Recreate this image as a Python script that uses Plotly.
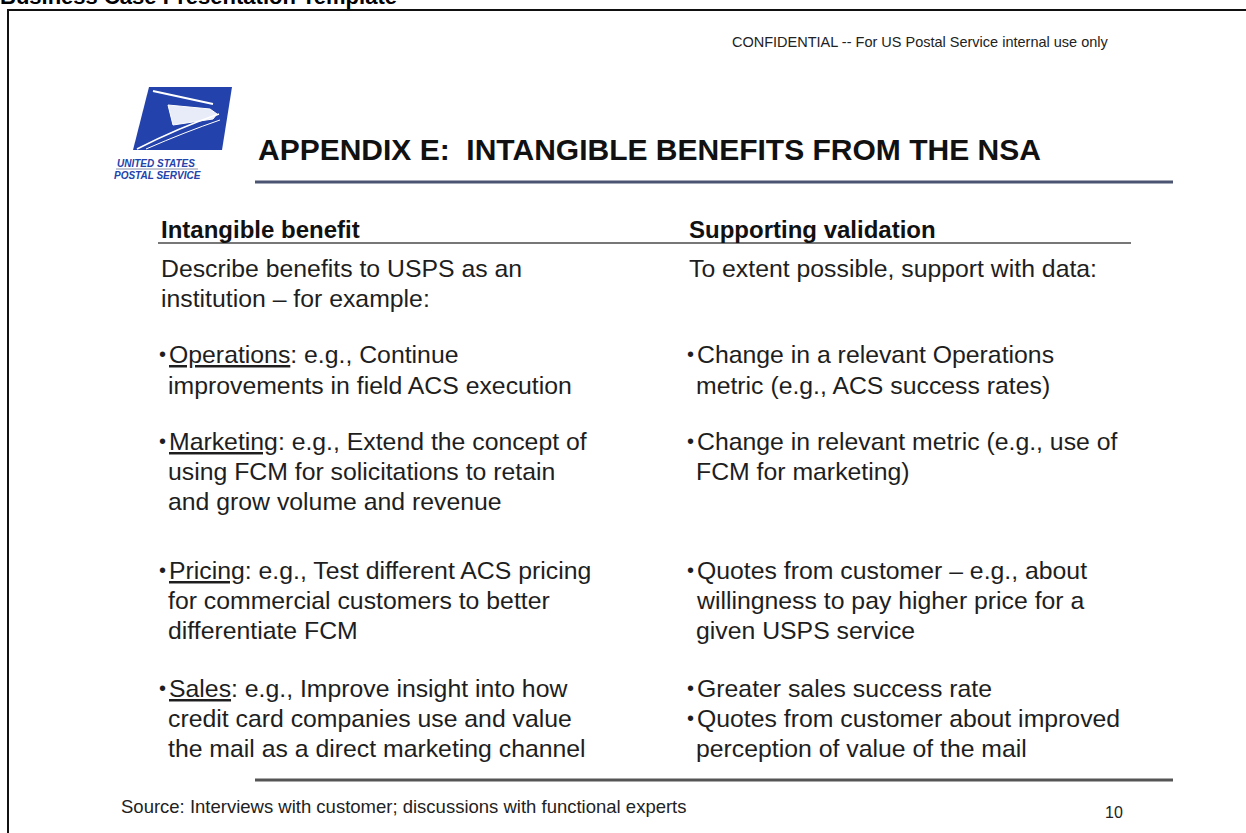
import plotly.graph_objects as go

W, H = 1246, 833
FONT = "Liberation Sans, Arial, sans-serif"
TXT = "#1e1e1e"

doc_title = "Business Case Presentation Template"
confidential = "CONFIDENTIAL -- For US Postal Service internal use only"
slide_title = "APPENDIX E:\u00a0\u00a0INTANGIBLE BENEFITS FROM THE NSA"
col_headers = ["Intangible benefit", "Supporting validation"]
logo_lines = ["UNITED STATES", "POSTAL SERVICE"]

# (is_bullet, text) for each row of the two columns
left_rows = [
    (False, "Describe benefits to USPS as an"),
    (False, "institution \u2013 for example:"),
    (True, "<u>Operations</u>: e.g., Continue"),
    (False, "improvements in field ACS execution"),
    (True, "<u>Marketing</u>: e.g., Extend the concept of"),
    (False, "using FCM for solicitations to retain"),
    (False, "and grow volume and revenue"),
    (True, "<u>Pricing</u>: e.g., Test different ACS pricing"),
    (False, "for commercial customers to better"),
    (False, "differentiate FCM"),
    (True, "<u>Sales</u>: e.g., Improve insight into how"),
    (False, "credit card companies use and value"),
    (False, "the mail as a direct marketing channel"),
]
right_rows = [
    (False, "To extent possible, support with data:"),
    (None, ""),
    (True, "Change in a relevant Operations"),
    (False, "metric (e.g., ACS success rates)"),
    (True, "Change in relevant metric (e.g., use of"),
    (False, "FCM for marketing)"),
    (None, ""),
    (True, "Quotes from customer \u2013 e.g., about"),
    (False, "willingness to pay higher price for a"),
    (False, "given USPS service"),
    (True, "Greater sales success rate"),
    (True, "Quotes from customer about improved"),
    (False, "perception of value of the mail"),
]
row_y = [268, 298, 354, 385, 441, 471, 501, 570, 600, 630, 688, 718, 748]
source_note = "Source: Interviews with customer; discussions with functional experts"
page_number = "10"

fig = go.Figure()
ann = []
shapes = []

def text(x, y, s, size, bold=False, color=TXT, xanchor="left", italic=False):
    if bold:
        s = "<b>" + s + "</b>"
    if italic:
        s = "<i>" + s + "</i>"
    ann.append(dict(x=x, y=y, xref="x", yref="y", text=s, showarrow=False,
                    xanchor=xanchor, yanchor="middle",
                    font=dict(family=FONT, size=size, color=color)))

# page frame
shapes.append(dict(type="path", path="M8,840 L8,10 L1250,10", xref="x", yref="y",
                   line=dict(color="#111111", width=2)))
# document title (cut off at the top edge of the page)
ann.append(dict(x=-2 / W, y=1 + 3 / H, xref="paper", yref="paper",
                text="<b>" + doc_title + "</b>", showarrow=False,
                xanchor="left", yanchor="middle",
                font=dict(family=FONT, size=22, color="#000000")))
text(730, 42, confidential, 14.5, color="#222222")

# logo
shapes.append(dict(type="path", path="M149,87 L232,87 L222,150 L133,150 Z",
                   xref="x", yref="y", fillcolor="#2342ab", line=dict(width=0)))
shapes.append(dict(type="path", path="M153,91 L213,104", xref="x", yref="y",
                   line=dict(color="white", width=2)))
shapes.append(dict(type="path", path="M168,105 L210,109 L217,114 L213,119 L173,125 Z",
                   xref="x", yref="y", fillcolor="#e8ecf8", line=dict(color="white", width=1)))
shapes.append(dict(type="path", path="M137,149 Q178,128 219,114", xref="x", yref="y",
                   line=dict(color="white", width=1.6)))
shapes.append(dict(type="path", path="M146,149 Q185,132 220,120", xref="x", yref="y",
                   line=dict(color="white", width=1)))
text(156, 163, logo_lines[0], 10, bold=True, italic=True, color="#2342ab", xanchor="center")
shapes.append(dict(type="line", x0=116, x1=198, y0=169, y1=169, xref="x", yref="y",
                   line=dict(color="#8890a8", width=1)))
text(157, 175, logo_lines[1], 10, bold=True, italic=True, color="#2342ab", xanchor="center")

# slide title and rule
text(256, 149, slide_title, 30, bold=True, color="#111111")
shapes.append(dict(type="line", x0=255, x1=1173, y0=182, y1=182, xref="x", yref="y",
                   line=dict(color="#4b5470", width=3)))

# column headers and rule
text(159, 229, col_headers[0], 24, bold=True, color="#111111")
text(687, 229, col_headers[1], 24, bold=True, color="#111111")
shapes.append(dict(type="line", x0=158, x1=1131, y0=243, y1=243, xref="x", yref="y",
                   line=dict(color="#777777", width=2)))

# body text
BODY = 24.8
for x0, rows in ((159, left_rows), (687, right_rows)):
    for (bullet, s), y in zip(rows, row_y):
        if bullet is None:
            continue
        if bullet:
            text(x0 - 2, y, "\u2022", 20)
            text(x0 + 8, y, s, BODY)
        elif s.startswith(("Describe", "institution", "To extent")):
            text(x0, y, s, BODY)
        else:
            text(x0 + 7, y, s, BODY)

# footer
shapes.append(dict(type="line", x0=255, x1=1173, y0=780, y1=780, xref="x", yref="y",
                   line=dict(color="#555555", width=3)))
text(119, 806, source_note, 18.5, color="#222222")
text(1114, 812, page_number, 16, color="#222222", xanchor="center")

fig.update_layout(
    width=W, height=H, margin=dict(l=0, r=0, t=0, b=0),
    paper_bgcolor="white", plot_bgcolor="white",
    xaxis=dict(range=[0, W], visible=False, fixedrange=True),
    yaxis=dict(range=[H, 0], visible=False, fixedrange=True),
    annotations=ann, shapes=shapes, showlegend=False,
)
fig.write_html("out.html", config={"displayModeBar": False},
               post_script="document.body.style.margin='0';document.body.style.overflow='hidden';")
